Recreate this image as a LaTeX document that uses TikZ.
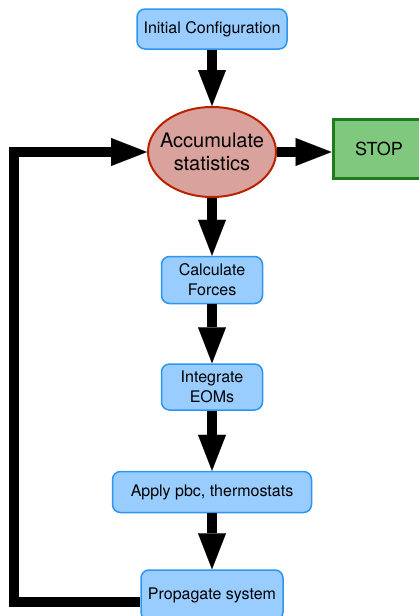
\documentclass[tikz,border=0pt]{standalone}
\usepackage{fontspec}
\setmainfont{TeX Gyre Heros}
\usetikzlibrary{arrows.meta,shapes.geometric}
\definecolor{boxfill}{HTML}{99CCFF}
\definecolor{boxline}{HTML}{2E96EE}
\definecolor{accfill}{HTML}{D9A29C}
\definecolor{accline}{HTML}{B82200}
\definecolor{stopfill}{HTML}{80C87D}
\definecolor{stopline}{HTML}{1E7C1E}
\begin{document}
\begin{tikzpicture}[x=1pt,y=-1pt,
	stepbox/.style={draw=boxline, fill=boxfill, line width=1.5pt, rounded corners=8pt,
		align=center, inner sep=0pt, font=\fontsize{16}{20}\selectfont},
	flow/.style={line width=10pt, line join=miter,
		-{Triangle[length=36pt,width=28pt,line width=0.1pt]}}]
		\useasboundingbox (0,0) rectangle (418,616);

		\node[stepbox, minimum width=150pt, minimum height=40pt] (init) at (212,29) {Initial Configuration};
		\node[ellipse, draw=accline, fill=accfill, line width=2pt, minimum width=128pt, minimum height=90pt,
			inner sep=-7pt, align=center, font=\fontsize{20}{23}\selectfont] (accum) at (212,152) {Accumulate\\statistics};
		\node[draw=stopline, fill=stopfill, line width=3pt, minimum width=92pt, minimum height=59pt,
			font=\fontsize{18}{22}\selectfont] (stop) at (379,149) {STOP};
		\node[stepbox, minimum width=101pt, minimum height=47pt] (calc) at (212,280) {Calculate\\Forces};
		\node[stepbox, minimum width=101pt, minimum height=46pt] (integ) at (212,387) {Integrate\\EOMs};
		\node[stepbox, minimum width=199pt, minimum height=41pt] (apply) at (212,492) {Apply pbc, thermostats};
		\node[stepbox, minimum width=142pt, minimum height=50pt] (prop) at (212,595) {Propagate system};

		\draw[flow] (init.south) -- (accum.north);
		\draw[flow] (accum.east) -- (accum.east -| stop.west);
		\draw[flow] (accum.south) -- (calc.north);
		\draw[flow] (calc.south) -- (integ.north);
		\draw[flow] (integ.south) -- (apply.north);
		\draw[flow] (apply.south) -- (prop.north);

		\coordinate (bend) at (14,602);
		\draw[flow] ([yshift=-7pt]prop.west) -- (bend) |- (accum.west);
\end{tikzpicture}
\end{document}
